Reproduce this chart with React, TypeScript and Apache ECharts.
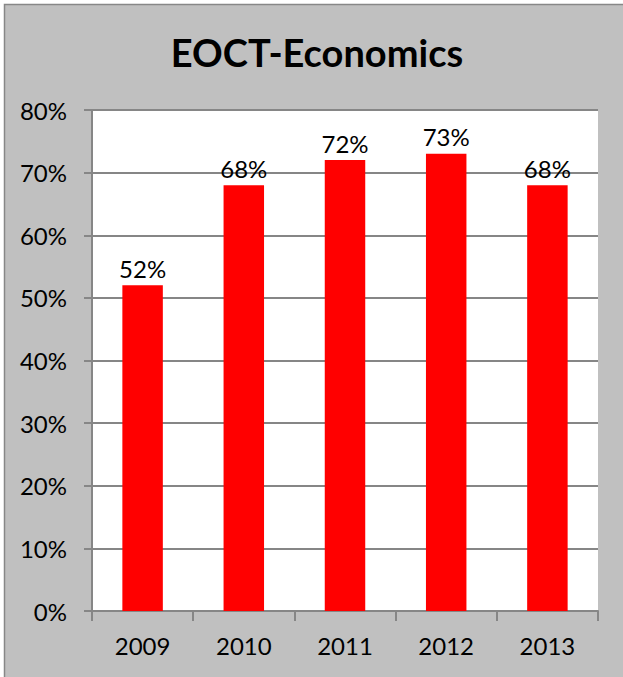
import React, { useEffect, useRef } from "react";
import * as echarts from "echarts";

const title = "EOCT-Economics";
const years = ["2009", "2010", "2011", "2012", "2013"];
const passRates = [52, 68, 72, 73, 68];
const yTicks = { min: 0, max: 80, interval: 10 };

export default function App() {
  const ref = useRef<HTMLDivElement>(null);
  useEffect(() => {
    document.body.style.margin = "0";
    const chart = echarts.init(ref.current!, null, { renderer: "svg" });
    const font = "Lato, 'Open Sans', sans-serif";
    chart.setOption({
      animation: false,
      backgroundColor: "#ffffff",
      graphic: [
        {
          type: "rect",
          z: -10,
          silent: true,
          shape: { x: 4.5, y: 4.5, width: 700, height: 700 },
          style: { fill: "#c0c0c0", stroke: "#878787", lineWidth: 1.5 },
        },
        {
          type: "text",
          x: 317,
          y: 52,
          silent: true,
          style: {
            text: title,
            fontFamily: font,
            fontSize: 38,
            fontWeight: "bold",
            fill: "#000",
            textAlign: "center",
            textVerticalAlign: "middle",
          },
        },
      ],
      grid: { left: 92, right: 25, top: 110, bottom: 66, show: true, backgroundColor: "#ffffff", borderWidth: 0 },
      xAxis: {
        type: "category",
        data: years,
        axisLine: { show: true, lineStyle: { color: "#868686", width: 2 } },
        axisTick: { show: true, alignWithLabel: false, length: 10, lineStyle: { color: "#868686", width: 2 } },
        axisLabel: { color: "#000", fontFamily: font, fontSize: 24, margin: 22 },
      },
      yAxis: {
        type: "value",
        min: yTicks.min,
        max: yTicks.max,
        interval: yTicks.interval,
        axisLine: { show: true, lineStyle: { color: "#868686", width: 2 } },
        axisTick: { show: true, length: 8, inside: false, lineStyle: { color: "#868686", width: 2 } },
        splitLine: { show: true, lineStyle: { color: "#868686", width: 2 } },
        axisLabel: { color: "#000", fontFamily: font, fontSize: 24, margin: 25, formatter: "{value}%" },
      },
      series: [
        {
          type: "bar",
          data: passRates,
          barWidth: "40%",
          itemStyle: { color: "#ff0000" },
          label: {
            show: true,
            position: "top",
            distance: 5,
            formatter: "{c}%",
            color: "#000",
            fontFamily: font,
            fontSize: 24,
          },
        },
      ],
    });
    return () => chart.dispose();
  }, []);
  return <div ref={ref} style={{ width: 623, height: 677 }} />;
}
